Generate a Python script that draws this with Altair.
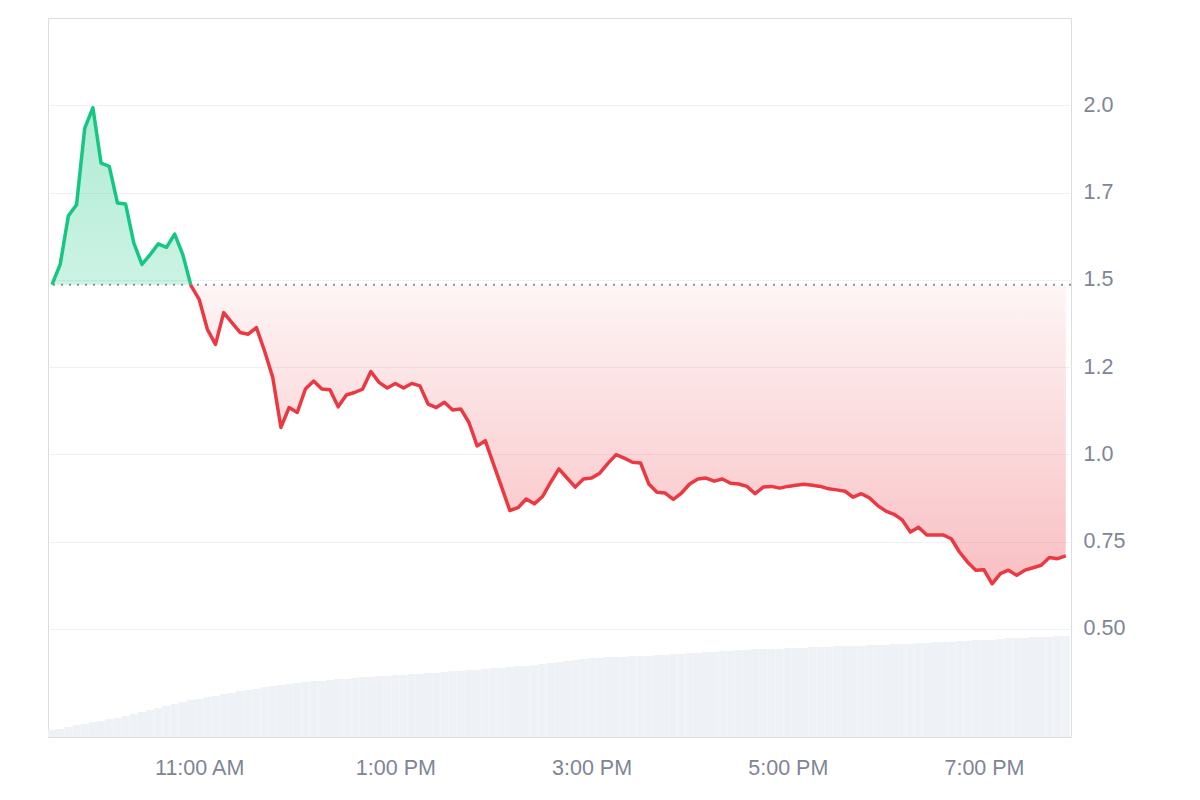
import altair as alt
import pandas as pd

# ---------------- data ----------------
START_HOUR = 9.5        # 9:30 AM
STEP_MIN = 5            # one point every 5 minutes

price = [
    1.486, 1.544, 1.683, 1.715, 1.934, 1.993, 1.834, 1.825, 1.720, 1.717,
    1.606, 1.544, 1.572, 1.603, 1.593, 1.631, 1.572, 1.483, 1.444, 1.358,
    1.315, 1.406, 1.377, 1.349, 1.344, 1.363, 1.296, 1.220, 1.077, 1.134,
    1.120, 1.187, 1.210, 1.187, 1.185, 1.136, 1.170, 1.177, 1.187, 1.237,
    1.206, 1.190, 1.203, 1.190, 1.203, 1.196, 1.144, 1.134, 1.149, 1.127,
    1.130, 1.091, 1.024, 1.039, 0.972, 0.906, 0.839, 0.847, 0.872, 0.858,
    0.879, 0.920, 0.958, 0.932, 0.906, 0.929, 0.932, 0.946, 0.974, 0.999,
    0.989, 0.977, 0.975, 0.915, 0.891, 0.889, 0.871, 0.889, 0.915, 0.929,
    0.932, 0.923, 0.929, 0.917, 0.915, 0.908, 0.887, 0.906, 0.908, 0.903,
    0.908, 0.911, 0.914, 0.911, 0.908, 0.901, 0.898, 0.894, 0.877, 0.887,
    0.875, 0.853, 0.837, 0.828, 0.812, 0.777, 0.791, 0.769, 0.769, 0.769,
    0.758, 0.720, 0.691, 0.668, 0.669, 0.629, 0.658, 0.668, 0.653, 0.668,
    0.675, 0.682, 0.704, 0.701, 0.709,
]

volume_m = [
    0.7, 0.8, 1.0, 1.2, 1.3, 1.5, 1.6, 1.8, 1.9, 2.1,
    2.3, 2.5, 2.7, 2.9, 3.1, 3.3, 3.5, 3.7, 3.8, 4.0,
    4.1, 4.3, 4.4, 4.6, 4.7, 4.8, 5.0, 5.1, 5.2, 5.3,
    5.4, 5.5, 5.6, 5.6, 5.7, 5.8, 5.8, 5.9, 6.0, 6.0,
    6.1, 6.1, 6.2, 6.2, 6.3, 6.3, 6.4, 6.4, 6.5, 6.6,
    6.6, 6.7, 6.7, 6.8, 6.9, 6.9, 7.0, 7.1, 7.1, 7.2,
    7.3, 7.4, 7.5, 7.6, 7.7, 7.8, 7.9, 7.9, 8.0, 8.0,
    8.0, 8.1, 8.1, 8.1, 8.2, 8.2, 8.3, 8.3, 8.4, 8.4,
    8.5, 8.5, 8.6, 8.6, 8.7, 8.7, 8.8, 8.8, 8.8, 8.8,
    8.9, 8.9, 8.9, 9.0, 9.0, 9.0, 9.1, 9.1, 9.1, 9.1,
    9.2, 9.2, 9.2, 9.3, 9.3, 9.3, 9.4, 9.4, 9.5, 9.5,
    9.5, 9.6, 9.6, 9.7, 9.7, 9.7, 9.8, 9.9, 9.9, 9.9,
    10.0, 10.0, 10.0, 10.1, 10.1,
]

y_ticks = [0.5, 0.75, 1.0, 1.25, 1.5, 1.75, 2.0]
y_tick_labels = ["0.50", "0.75", "1.0", "1.2", "1.5", "1.7", "2.0"]
x_ticks = [11, 13, 15, 17, 19]
x_tick_labels = ["11:00 AM", "1:00 PM", "3:00 PM", "5:00 PM", "7:00 PM"]

Y_DOMAIN = [0.19, 2.25]
X_DOMAIN = [9.459, 19.887]
VOL_DOMAIN = [0, 71.9]

GREEN = "#16c784"
RED = "#ea3943"
LABEL = "#7e8596"
GRID = "#eff1f4"
FONT = "Liberation Sans"
FONT_SIZE = 21.5

# ---------------- derived tables ----------------
hours = [START_HOUR + i * STEP_MIN / 60 for i in range(len(price))]
base = price[0]

df = pd.DataFrame({"t": hours, "price": price, "vol": volume_m})

# insert the points where the line crosses the baseline so the
# green/red parts meet exactly on it
pts = []
for i in range(len(price)):
    if i > 0:
        p0, p1 = price[i - 1], price[i]
        if (p0 - base) * (p1 - base) < 0:
            f = (p0 - base) / (p0 - p1)
            pts.append((hours[i - 1] + f * (hours[i] - hours[i - 1]), base))
    pts.append((hours[i], price[i]))

seg_rows = []
grp = 0
prev_side = None
for t, p in pts:
    side = "up" if p > base else ("down" if p < base else None)
    if side is None:
        seg_rows.append({"t": t, "price": p, "side": prev_side or "up", "grp": grp})
        continue
    if prev_side is not None and side != prev_side:
        grp += 1
        last = seg_rows[-1]
        if last["price"] == base:
            seg_rows.append({"t": last["t"], "price": base, "side": side, "grp": grp})
    seg_rows.append({"t": t, "price": p, "side": side, "grp": grp})
    prev_side = side
seg = pd.DataFrame(seg_rows)

area_df = pd.DataFrame({
    "t": [t for t, _ in pts],
    "up": [max(p, base) for _, p in pts],
    "down": [min(p, base) for _, p in pts],
    "base": [base for _ in pts],
})

# ---------------- chart ----------------
x_scale = alt.Scale(domain=X_DOMAIN, nice=False, zero=False, padding=0)
x_enc = alt.X("t:Q", scale=x_scale,
              axis=alt.Axis(values=x_ticks, labelExpr=" : ".join(
                  f"datum.value == {v} ? '{l}'" for v, l in zip(x_ticks, x_tick_labels)) + " : ''",
                  grid=False, domain=False, ticks=False, labelPadding=20,
                  labelFontSize=FONT_SIZE, labelColor=LABEL, labelFont=FONT,
                  title=None))

y_scale = alt.Scale(domain=Y_DOMAIN, nice=False, zero=False)
y_axis = alt.Axis(values=y_ticks, orient="right",
                  labelExpr=" : ".join(f"datum.value == {v} ? '{l}'"
                                       for v, l in zip(y_ticks, y_tick_labels)) + " : ''",
                  grid=True, gridColor=GRID, gridWidth=1, domain=False, ticks=False,
                  labelPadding=12, labelFontSize=FONT_SIZE, labelColor=LABEL,
                  labelFont=FONT, labelAlign="left", title=None)

volume = alt.Chart(df).mark_bar(width=8.0, color="#eef1f5").encode(
    x=x_enc,
    y=alt.Y("vol:Q", scale=alt.Scale(domain=VOL_DOMAIN, nice=False), axis=None),
)

green_area = alt.Chart(area_df).mark_area(
    color=alt.Gradient(gradient="linear", x1=0, x2=0, y1=0, y2=1,
                       stops=[alt.GradientStop(offset=0, color="rgba(22,199,132,0.34)"),
                              alt.GradientStop(offset=1, color="rgba(22,199,132,0.22)")])
).encode(x=alt.X("t:Q", scale=x_scale), y=alt.Y("up:Q", scale=y_scale, axis=y_axis), y2="base:Q")

red_area = alt.Chart(area_df).mark_area(
    color=alt.Gradient(gradient="linear", x1=0, x2=0, y1=0, y2=1,
                       stops=[alt.GradientStop(offset=0, color="rgba(234,57,67,0.05)"),
                              alt.GradientStop(offset=1, color="rgba(234,57,67,0.32)")])
).encode(x=alt.X("t:Q", scale=x_scale), y=alt.Y("down:Q", scale=y_scale), y2="base:Q")

baseline = alt.Chart(pd.DataFrame({"b": [base]})).mark_rule(
    color="#8c919c", strokeDash=[2, 6], strokeWidth=2
).encode(y=alt.Y("b:Q", scale=y_scale))

lines = alt.Chart(seg).mark_line(strokeWidth=3.5, strokeJoin="round").encode(
    x=alt.X("t:Q", scale=x_scale),
    y=alt.Y("price:Q", scale=y_scale),
    color=alt.Color("side:N", scale=alt.Scale(domain=["up", "down"], range=[GREEN, RED]),
                    legend=None),
    detail="grp:N",
    order="t:Q",
)

price_layer = alt.layer(green_area, red_area, baseline, lines)

chart = alt.layer(volume, price_layer).resolve_scale(y="independent").properties(
    width=1023, height=719,
    padding={"left": 39, "top": 10, "right": 5, "bottom": 5},
).configure_view(stroke="#eceff3", strokeWidth=1).configure(background="white")

chart.save("out.html", embed_options={"renderer": "svg", "actions": False})
